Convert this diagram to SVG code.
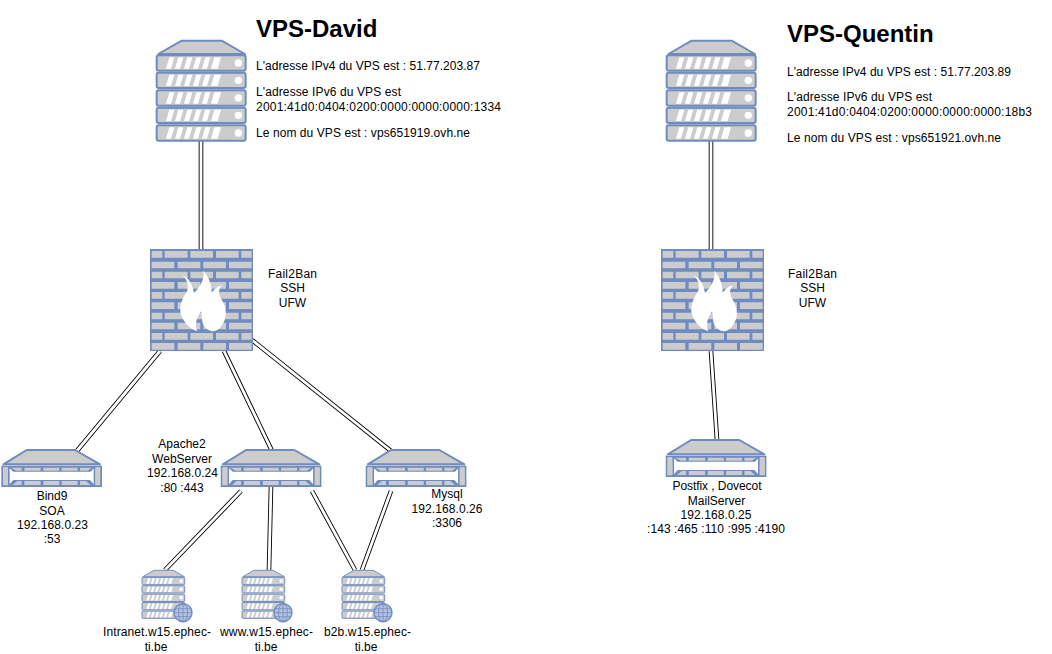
<svg xmlns="http://www.w3.org/2000/svg" width="1052" height="654" viewBox="0 0 1052 654">
<style>
text{font-family:"Liberation Sans",Arial,sans-serif;font-size:12px;fill:#000}
.t{font-size:24px;font-weight:bold}
.m{text-anchor:middle}
.o{fill:none;stroke:#000;stroke-width:4.6}
.i{fill:none;stroke:#fff;stroke-width:2.8}
.b{fill:#ccc;stroke:#6f8bc0;stroke-width:6;stroke-linejoin:round}
.g{fill:#ccc;stroke:none}
.w{fill:#fff;stroke:none}
</style>
<defs>
<g id="row"><rect class="b" x="50" y="0" width="267" height="46" rx="6"/>
<path class="w" d="M78 40 88 6H103L93 40ZM105 40 115 6H130L120 40ZM132 40 142 6H157L147 40ZM159 40 169 6H184L174 40ZM186 40 196 6H211L201 40ZM213 40 223 6H243L233 40Z"/><circle class="w" cx="295" cy="23" r="11"/></g>
<g id="server">
<path class="b" d="M55 72 125 32H245L315 72Z"/>
<use href="#row" y="76"/><use href="#row" y="128"/><use href="#row" y="181"/><use href="#row" y="233"/><use href="#row" y="286"/>
</g>
<g id="firewall">
<rect x="30" y="27" width="309" height="306" fill="#6f8bc0"/>
<path fill="#ccc" d="M35 33h32v20H35zM74 33h69v20H74zM151 33h68v20H151zM228 33h68v20H228zM304 33h31v20H304zM35 65h68v20H35zM113 65h68v20H113zM190 65h68v20H190zM267 65h68v20H267zM35 95h32v20H35zM74 95h69v20H74zM151 95h68v20H151zM228 95h68v20H228zM304 95h31v20H304zM35 126h68v20H35zM113 126h68v20H113zM190 126h68v20H190zM267 126h68v20H267zM35 156h32v20H35zM74 156h69v20H74zM151 156h68v20H151zM228 156h68v20H228zM304 156h31v20H304zM35 187h68v20H35zM113 187h68v20H113zM190 187h68v20H190zM267 187h68v20H267zM35 218h32v20H35zM74 218h69v20H74zM151 218h68v20H151zM228 218h68v20H228zM304 218h31v20H304zM35 248h68v20H35zM113 248h68v20H113zM190 248h68v20H190zM267 248h68v20H267zM35 279h32v20H35zM74 279h69v20H74zM151 279h68v20H151zM228 279h68v20H228zM304 279h31v20H304zM35 309h68v20H35zM113 309h68v20H113zM190 309h68v20H190zM267 309h68v20H267z"/>
<path fill="#fff" d="M128 105C145 113 158 132 162 160 178 142 195 120 190 92 204 108 216 132 215 158 224 146 234 139 246 135 232 150 237 165 246 181 256 198 262 220 254 240 246 260 232 274 219 274 205 272 191 262 187 245 186 232 185 222 183 214 174 228 168 240 168 252 168 262 169 268 172 274 152 268 132 250 124 226 116 205 124 180 138 160 148 145 145 122 128 105Z"/>
</g>
<g id="switch">
<path class="b" d="M10 103 80 60H225L300 103Z" stroke-width="5"/>
<rect x="7" y="110" width="296" height="58" fill="#fff" stroke="#6f8bc0" stroke-width="6"/>
<path class="g" d="M9 112h15v54H9zM286 112h15v54H286z"/>
<path fill="#6f8bc0" d="M24 110h5v58h-5zM281 110h5v58h-5z"/>
<path fill="#6f8bc0" d="M24 110H286L272 125H40ZM40 150H270L286 168H24Z"/>
<path class="g" d="M32 113H65V122H50ZM73 113h49v9H73zM130 113h48v9H130zM185 113h48v9H185zM240 113H276L262 122H240ZM38 165 52 153H65V165ZM73 153h49v12H73zM130 153h48v12H130zM185 153h48v12H185zM240 153H258L272 165H240Z"/>
</g>
<g id="globe" fill="none" stroke="#6f8bc0" stroke-width=".8">
<circle r="9" fill="#b4c2de" stroke-width="1.4"/>
<ellipse rx="4.5" ry="9"/><path d="M0-9V9M-9 0H9M-8-4H8M-8 4H8"/>
</g>
</defs>

<g id="connectors">
<path class="o" d="M201 141V249M160 351 76 452M224 351 272 451M252 340 391 451M241 491 165 570M271 486 269 570M312 491 355 570M391 491 362 570M711 141V249M711 351 717 440"/>
<path class="i" d="M201 141V249M160 351 76 452M224 351 272 451M252 340 391 451M241 491 165 570M271 486 269 570M312 491 355 570M391 491 362 570M711 141V249M711 351 717 440"/>
</g>

<g id="vps-david">
<use href="#server" transform="translate(140 30) scale(.3333)"/>
<text class="t" x="256" y="37">VPS-David</text>
<text x="256" y="70" textLength="224">L'adresse IPv4 du VPS est : 51.77.203.87</text>
<text x="256" y="96" textLength="145">L'adresse IPv6 du VPS est</text>
<text x="256" y="111" textLength="245">2001:41d0:0404:0200:0000:0000:0000:1334</text>
<text x="256" y="137" textLength="214">Le nom du VPS est : vps651919.ovh.ne</text>
</g>
<g id="firewall-david">
<use href="#firewall" transform="translate(140 240) scale(.3333)"/>
<text class="m" x="292.5" y="278" textLength="49">Fail2Ban</text><text class="m" x="292.5" y="292">SSH</text><text class="m" x="292.5" y="307">UFW</text>
</g>
<g id="bind9">
<use href="#switch" transform="translate(0 430) scale(.3333)"/>
<text class="m" x="52" y="500">Bind9</text><text class="m" x="52" y="515">SOA</text><text class="m" x="52.5" y="529" textLength="71">192.168.0.23</text><text class="m" x="52" y="543">:53</text>
</g>
<g id="apache2">
<use href="#switch" transform="translate(219.4 430) scale(.3333)"/>
<text class="m" x="182" y="448">Apache2</text><text class="m" x="182" y="463">WebServer</text><text class="m" x="182.5" y="477" textLength="71">192.168.0.24</text><text class="m" x="182" y="492">:80 :443</text>
</g>
<g id="mysql">
<use href="#switch" transform="translate(364.4 430) scale(.3333)"/>
<text class="m" x="447" y="498">Mysql</text><text class="m" x="447" y="513" textLength="71">192.168.0.26</text><text class="m" x="447" y="527">:3306</text>
</g>
<g id="intranet">
<use href="#server" transform="translate(134 565.2) scale(.16)"/><use href="#globe" x="183" y="612.7"/>
<text class="m" x="157" y="636" textLength="108">Intranet.w15.ephec-</text><text class="m" x="156" y="651">ti.be</text>
</g>
<g id="www">
<use href="#server" transform="translate(234 565.2) scale(.16)"/><use href="#globe" x="283" y="612.7"/>
<text class="m" x="266.5" y="636" textLength="93">www.w15.ephec-</text><text class="m" x="266" y="651">ti.be</text>
</g>
<g id="b2b">
<use href="#server" transform="translate(334 565.2) scale(.16)"/><use href="#globe" x="383" y="612.7"/>
<text class="m" x="367.5" y="636" textLength="87">b2b.w15.ephec-</text><text class="m" x="366" y="651">ti.be</text>
</g>

<g id="vps-quentin">
<use href="#server" transform="translate(650 30) scale(.3333)"/>
<text class="t" x="787" y="42">VPS-Quentin</text>
<text x="787" y="76" textLength="224">L'adresse IPv4 du VPS est : 51.77.203.89</text>
<text x="787" y="101" textLength="145">L'adresse IPv6 du VPS est</text>
<text x="787" y="116" textLength="245">2001:41d0:0404:0200:0000:0000:0000:18b3</text>
<text x="787" y="142" textLength="214">Le nom du VPS est : vps651921.ovh.ne</text>
</g>
<g id="firewall-quentin">
<use href="#firewall" transform="translate(651 240) scale(.3333)"/>
<text class="m" x="812.5" y="278" textLength="49">Fail2Ban</text><text class="m" x="812.5" y="292">SSH</text><text class="m" x="812.5" y="307">UFW</text>
</g>
<g id="mailserver">
<use href="#switch" transform="translate(664.4 420) scale(.3333)"/>
<text class="m" x="717" y="490" textLength="89">Postfix , Dovecot</text><text class="m" x="716.5" y="505">MailServer</text><text class="m" x="716" y="519" textLength="71">192.168.0.25</text><text class="m" x="716" y="533" textLength="138">:143 :465 :110 :995 :4190</text>
</g>
</svg>
